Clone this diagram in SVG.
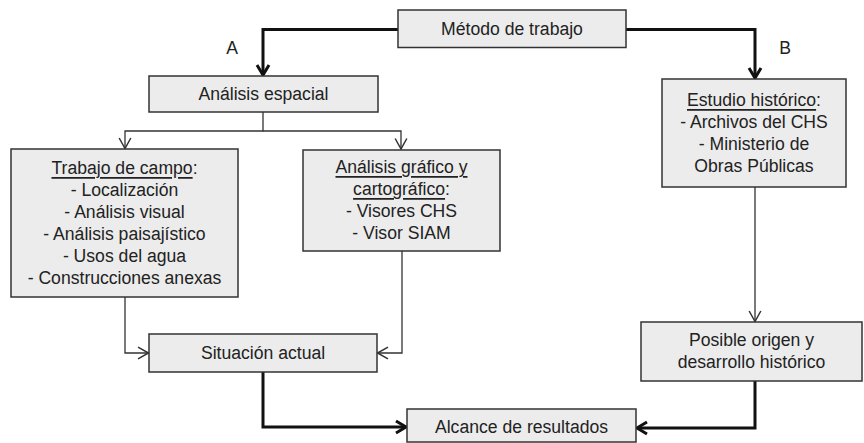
<svg xmlns="http://www.w3.org/2000/svg" width="864" height="443" viewBox="0 0 864 443">
<style>
.box{fill:#ececec;stroke:#333;stroke-width:1.5}
text{font-family:"Liberation Sans",Arial,sans-serif;font-size:17.6px;fill:#222;text-anchor:middle;dominant-baseline:central}
.u{text-decoration:underline}
.thick{fill:none;stroke:#111;stroke-width:3}
.thin{fill:none;stroke:#333;stroke-width:1.3}
</style>
<defs>
<marker id="ah" markerUnits="userSpaceOnUse" markerWidth="16" markerHeight="16" refX="12" refY="7" orient="auto" viewBox="0 0 16 14">
<path d="M2,1 L12,7 L2,13" fill="none" stroke="#111" stroke-width="3"/>
</marker>
<marker id="at" markerUnits="userSpaceOnUse" markerWidth="14" markerHeight="14" refX="10" refY="6" orient="auto" viewBox="0 0 12 12">
<path d="M1,1 L10,6 L1,11" fill="none" stroke="#333" stroke-width="1.3"/>
</marker>
</defs>
<g id="connectors">
<path class="thick" d="M398,29.5 H263 V75" marker-end="url(#ah)"/>
<path class="thick" d="M626,29.5 H755 V78" marker-end="url(#ah)"/>
<path class="thin" d="M263,112 V131 H125 V148.5" marker-end="url(#at)"/>
<path class="thin" d="M263,131 H401 V149" marker-end="url(#at)"/>
<path class="thin" d="M125,297 V353 H148.5" marker-end="url(#at)"/>
<path class="thin" d="M402,251 V353 H377.5" marker-end="url(#at)"/>
<path class="thin" d="M755,187 V321.5" marker-end="url(#at)"/>
<path class="thick" d="M263,372 V427 H406" marker-end="url(#ah)"/>
<path class="thick" d="M755,381 V428 H637" marker-end="url(#ah)"/>
</g>
<g id="label-A"><text x="232" y="48">A</text></g>
<g id="label-B"><text x="785" y="48">B</text></g>
<g id="metodo">
<rect class="box" x="398" y="10" width="228" height="37.5"/>
<text x="512" y="29">Método de trabajo</text>
</g>
<g id="analisis-espacial">
<rect class="box" x="149" y="76" width="229" height="36"/>
<text x="263.5" y="94">Análisis espacial</text>
</g>
<g id="trabajo-campo">
<rect class="box" x="11" y="149" width="227" height="148"/>
<text x="124.5" y="168"><tspan class="u">Trabajo de campo</tspan>:</text>
<text x="124.5" y="190">- Localización</text>
<text x="124.5" y="212">-  Análisis visual</text>
<text x="124.5" y="234">- Análisis paisajístico</text>
<text x="124.5" y="256">- Usos del agua</text>
<text x="124.5" y="278">- Construcciones anexas</text>
</g>
<g id="analisis-grafico">
<rect class="box" x="303" y="150" width="197" height="101"/>
<text x="401.5" y="167"><tspan class="u">Análisis gráfico y</tspan></text>
<text x="401.5" y="189"><tspan class="u">cartográfico</tspan>:</text>
<text x="401.5" y="211">- Visores CHS</text>
<text x="401.5" y="233">- Visor SIAM</text>
</g>
<g id="estudio-historico">
<rect class="box" x="662" y="79" width="184" height="108"/>
<text x="754" y="100"><tspan class="u">Estudio histórico</tspan>:</text>
<text x="754" y="122">- Archivos del CHS</text>
<text x="754" y="144">- Ministerio de</text>
<text x="754" y="166">Obras Públicas</text>
</g>
<g id="situacion-actual">
<rect class="box" x="149" y="334" width="228" height="38"/>
<text x="263" y="353">Situación actual</text>
</g>
<g id="posible-origen">
<rect class="box" x="641" y="322" width="221" height="59"/>
<text x="751.5" y="340">Posible origen y</text>
<text x="751.5" y="362">desarrollo histórico</text>
</g>
<g id="alcance">
<rect class="box" x="407" y="409" width="229" height="33"/>
<text x="521.5" y="427">Alcance de resultados</text>
</g>
</svg>
